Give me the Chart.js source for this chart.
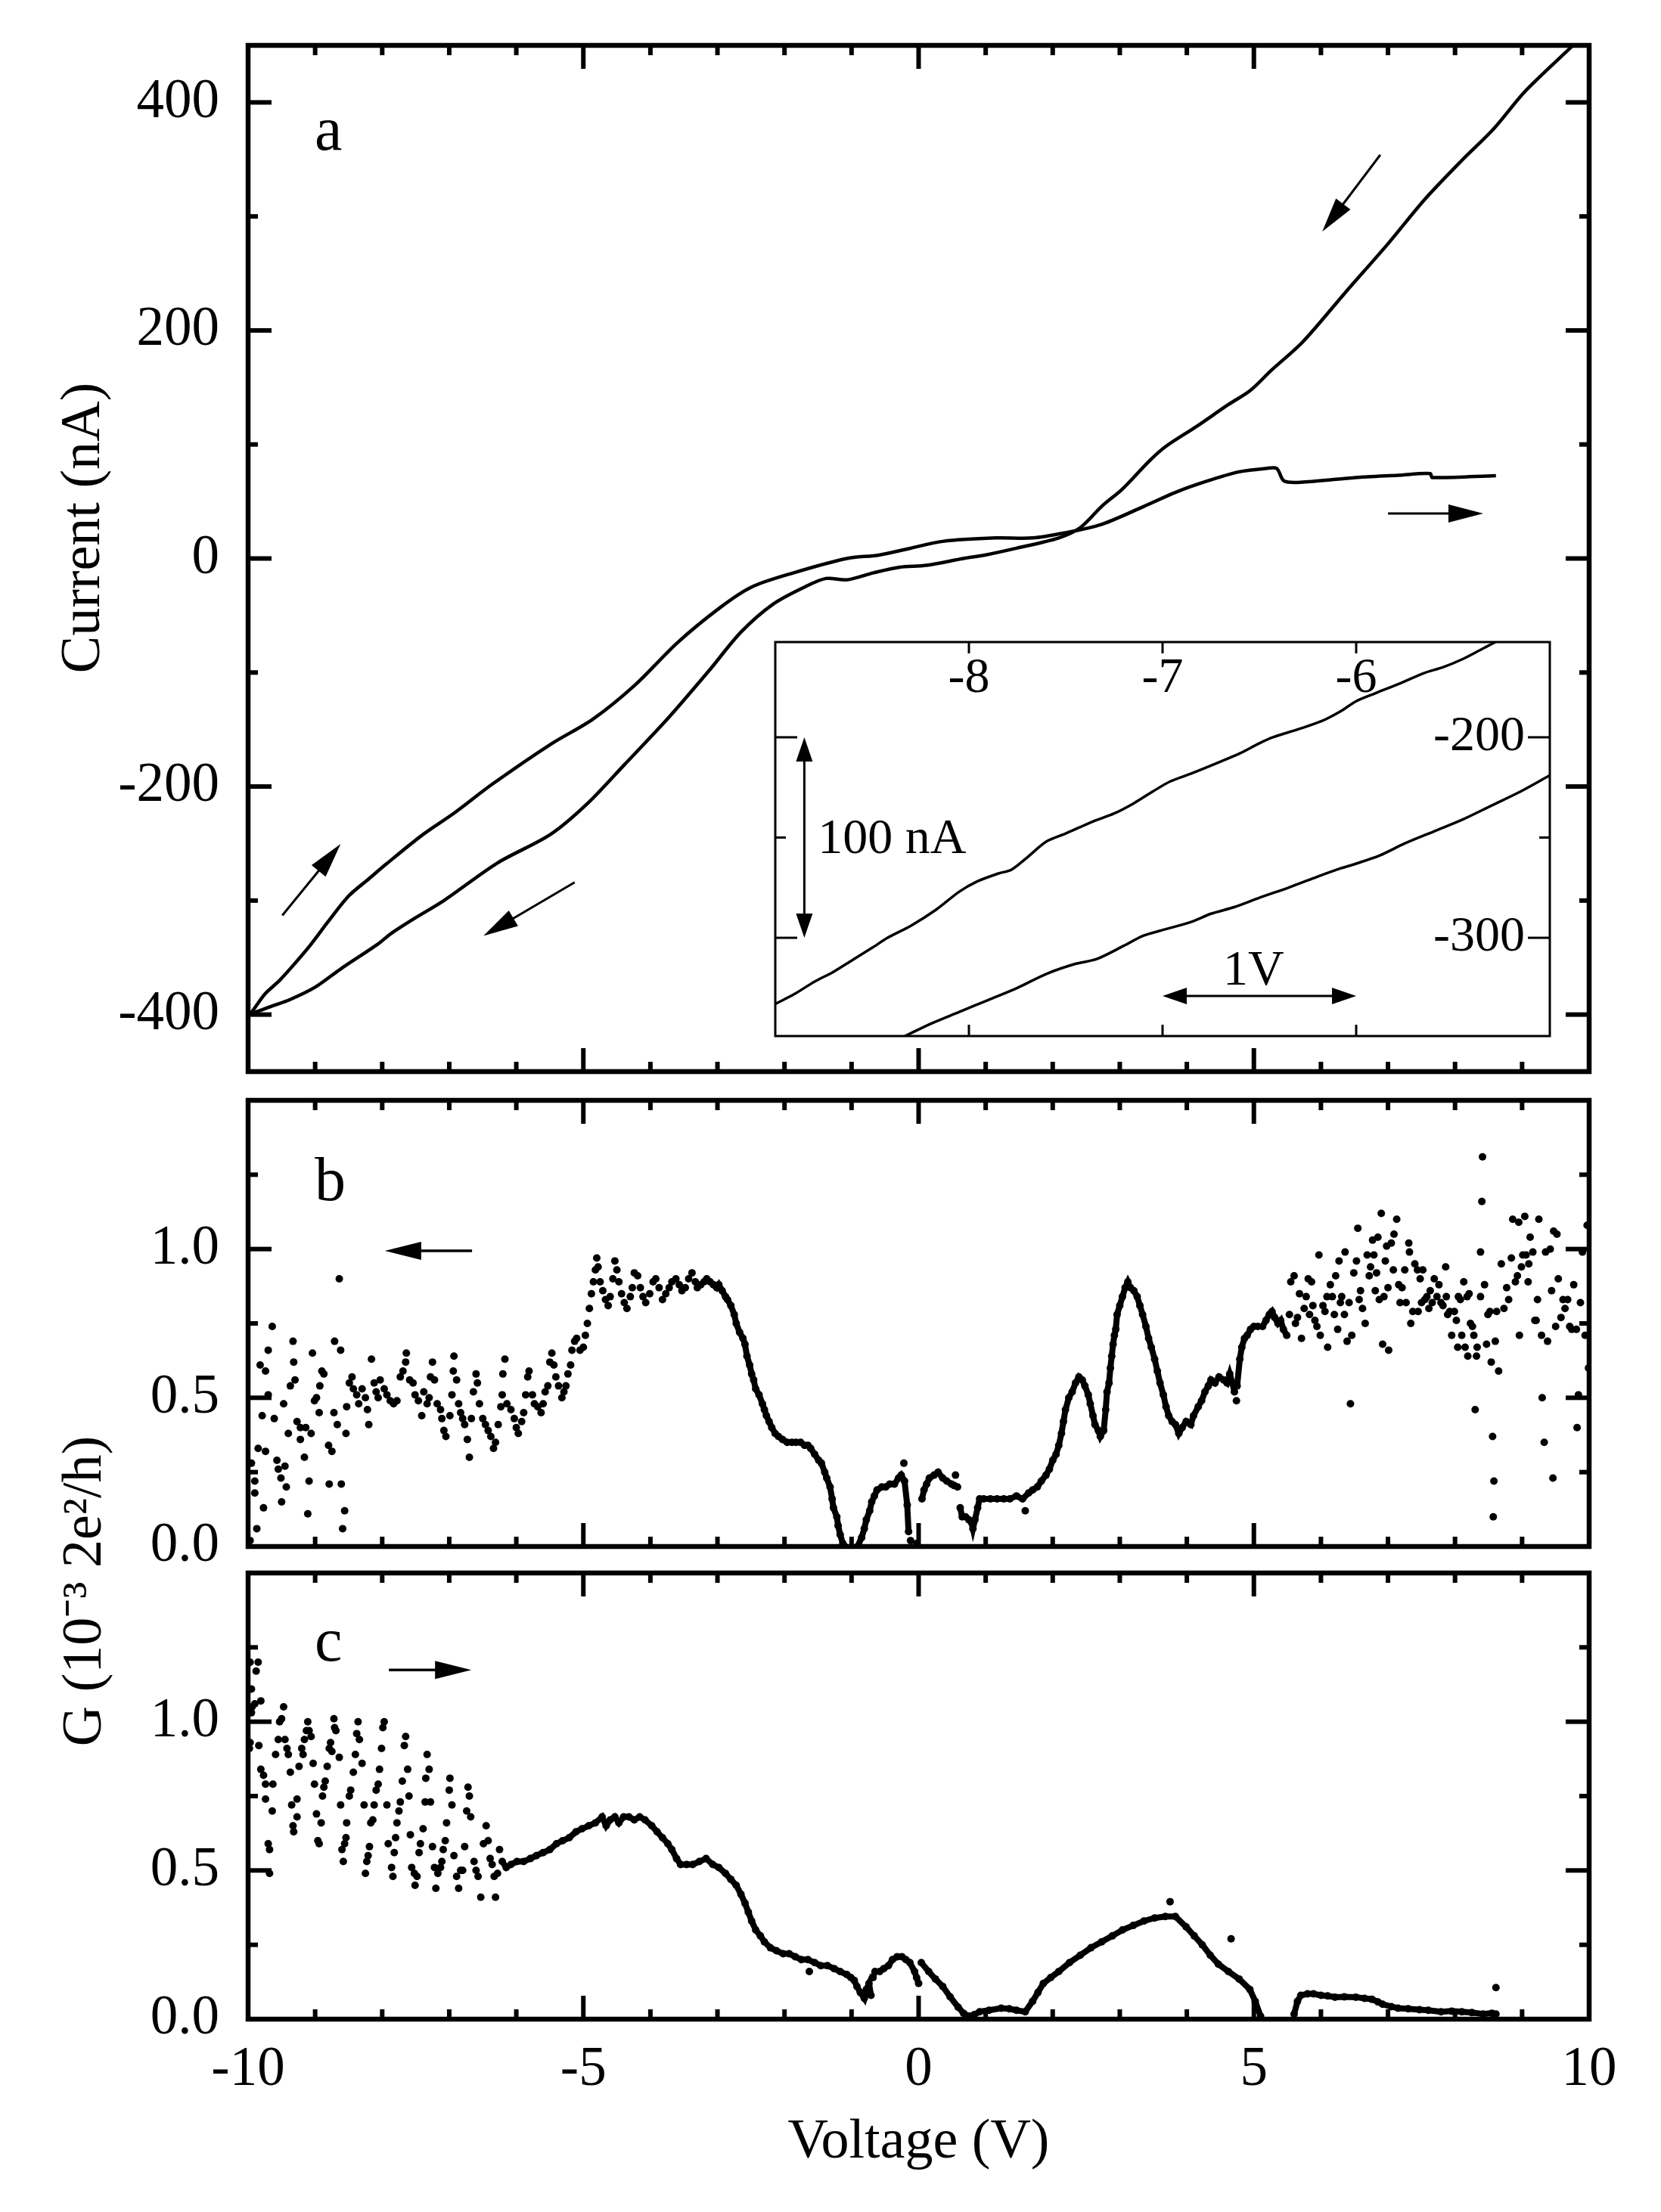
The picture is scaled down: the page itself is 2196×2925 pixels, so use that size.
<!DOCTYPE html>
<html><head><meta charset="utf-8">
<script src="https://cdn.jsdelivr.net/npm/chart.js@4.4.1/dist/chart.umd.min.js"></script>
<style>
html,body{margin:0;padding:0;background:#fff;}
#wrap{position:relative;width:2196px;height:2925px;background:#fff;}
canvas{position:absolute;left:0;top:0;width:2196px;height:2925px;}
</style></head><body>
<div id="wrap">
<canvas id="ca" width="2196" height="2925"></canvas>
<canvas id="ci" width="2196" height="2925"></canvas>
<canvas id="cb" width="2196" height="2925"></canvas>
<canvas id="cc" width="2196" height="2925"></canvas>
</div>
<script>
// ---------------- tick values and labels ----------------
const xMajorTicks = [-10,-5,0,5,10];
const xMinorTicks = [-9,-8,-7,-6,-4,-3,-2,-1,1,2,3,4,6,7,8,9];
const xLabels = ['-10','-5','0','5','10'];
const aYTicks = [-400,-200,0,200,400];
const aYMinor = [-300,-100,100,300];
const aYLabels = ['-400','-200','0','200','400'];
const gYTicks = [0,0.5,1.0];
const gYMinor = [0.25,0.75,1.25];
const gYLabels = ['0.0','0.5','1.0'];
const inXTicks = [-8,-7,-6];
const inXLabels = ['-8','-7','-6'];
const inYTicks = [-200,-300];
const inYMinor = [-250];
const inYLabels = ['-200','-300'];

// ---------------- panel a: I-V sweeps (V, nA) ----------------
const aForward = [[-10,-400],[-9.95,-398],[-9.75,-382],[-9.53,-370],[-9.30,-355],[-9.07,-339],[-8.80,-318],[-8.50,-296],
 [-8.20,-281],[-7.94,-268],[-7.39,-242],[-6.92,-223],[-6.36,-198],[-5.49,-163],[-4.86,-141],[-4.23,-111],[-3.60,-74],
 [-2.96,-43],[-2.49,-25],[-1.86,-12.5],[-1.07,0],[-0.59,3],[-0.12,9],[0.36,15],[1.15,18],[1.70,18],[2.17,22.4],[2.73,30],
 [3.36,45.7],[3.83,58],[4.31,68],[4.78,76],[5.18,79],[5.34,79],[5.45,68],[5.73,67],[6.52,71],[7.15,73],[7.63,74.5],
 [7.66,71],[8.61,72.7]];
const aBackward = [[9.90,458],[9.76,450],[9.05,410],[8.58,377],[8.10,349],[7.55,315],[7.00,276],[6.36,233],[5.73,190],
 [5.26,165],[4.94,147],[4.62,135],[4.15,116],[3.68,98],[3.44,85.5],[3.04,61],[2.73,45.7],[2.41,27],[2.09,18],[1.46,9],
 [0.99,3],[0.67,0],[0.12,-6],[-0.28,-7.6],[-0.67,-12.5],[-1.07,-18.7],[-1.38,-17.5],[-1.70,-25],[-2.17,-40],[-2.65,-64.6],
 [-3.12,-98],[-3.75,-141],[-4.39,-181],[-4.94,-215],[-5.49,-242],[-6.28,-267],[-7.08,-300],[-7.50,-315],[-7.87,-329],
 [-8.06,-338],[-8.62,-360],[-9.00,-376],[-9.38,-387],[-9.62,-392],[-9.85,-397],[-10,-400]];
const aArrows = [[6.885,354,6.02,286.6],[7.0,39.5,8.42,39.5],[-9.49,-313,-8.62,-250.4],[-5.13,-284,-6.49,-331]];

// ---------------- inset (V, nA) ----------------
const inUpper = [[-9.0,-333],[-8.9,-328],[-8.8,-322],[-8.7,-317],[-8.6,-311],[-8.5,-305],[-8.42,-300],[-8.3,-294],
 [-8.17,-286],[-8.05,-277],[-7.96,-272],[-7.85,-268],[-7.78,-266],[-7.7,-260],[-7.6,-252],[-7.5,-248],[-7.36,-242],
 [-7.25,-238],[-7.15,-233],[-7.05,-227],[-6.96,-222],[-6.85,-218],[-6.71,-212.5],[-6.6,-208],[-6.5,-203],[-6.43,-200],
 [-6.3,-196],[-6.18,-192],[-6.08,-187],[-6.0,-182],[-5.9,-178],[-5.77,-173],[-5.65,-168],[-5.55,-165],[-5.45,-161],
 [-5.35,-156],[-5.25,-151],[-5.15,-147]];
const inLower = [[-8.4,-352],[-8.33,-349],[-8.2,-343],[-8.05,-337],[-7.9,-331],[-7.75,-325],[-7.6,-318],[-7.45,-313],
 [-7.34,-310.6],[-7.2,-304],[-7.1,-299],[-6.98,-295.6],[-6.85,-292],[-6.75,-288],[-6.63,-284.7],[-6.5,-280],[-6.35,-275],
 [-6.24,-271],[-6.1,-266],[-6.0,-263],[-5.88,-259],[-5.75,-253],[-5.6,-247],[-5.45,-241],[-5.3,-234],[-5.15,-227],[-5.0,-219]];
const inArrows = [[-8.85,-200,-8.85,-300],[-7,-329,-6,-329]];

// ---------------- panel b: G (sweep down) ----------------
const bNoiseL = [[-9.97,0.02],[-9.95,0.28],[-9.90,0.22],[-9.90,0.18],[-9.87,0.06],[-9.85,0.33],[-9.82,0.61],[-9.79,0.44],
 [-9.77,0.13],[-9.74,0.59],[-9.74,0.32],[-9.70,0.51],[-9.70,0.66],[-9.64,0.74],[-9.61,0.43],[-9.57,0.29],[-9.55,0.26],
 [-9.51,0.23],[-9.50,0.15],[-9.47,0.48],[-9.45,0.27],[-9.43,0.20],[-9.40,0.38],[-9.37,0.54],[-9.33,0.69],[-9.32,0.62],
 [-9.30,0.56],[-9.27,0.42],[-9.22,0.40],[-9.22,0.36],[-9.16,0.30],[-9.14,0.40],[-9.11,0.11],[-9.09,0.22],[-9.06,0.38],
 [-9.04,0.65],[-9.01,0.49],[-8.98,0.50],[-8.94,0.45],[-8.93,0.54],[-8.90,0.59],[-8.87,0.58],[-8.80,0.34],[-8.79,0.21],
 [-8.75,0.32],[-8.72,0.45],[-8.71,0.69],[-8.67,0.41],[-8.64,0.90],[-8.62,0.66],[-8.61,0.21],[-8.59,0.06],[-8.56,0.12],
 [-8.54,0.38],[-8.53,0.47],[-8.49,0.55],[-8.45,0.57],[-8.43,0.53],[-8.38,0.51],[-8.35,0.48],[-8.30,0.53],[-8.25,0.50],
 [-8.22,0.46],[-8.20,0.41],[-8.16,0.63],[-8.12,0.55],[-8.09,0.52],[-8.06,0.50],[-8.03,0.56],[-7.97,0.53],[-7.93,0.51],
 [-7.88,0.49],[-7.83,0.48],[-7.78,0.49],[-7.73,0.57],[-7.69,0.59],[-7.65,0.62],[-7.64,0.65],[-7.59,0.56],[-7.54,0.55],
 [-7.51,0.51],[-7.46,0.49],[-7.41,0.44],[-7.38,0.52],[-7.33,0.48],[-7.30,0.50],[-7.28,0.57],[-7.25,0.62],[-7.22,0.56],
 [-7.18,0.48],[-7.13,0.46],[-7.11,0.43],[-7.08,0.39],[-7.05,0.37],[-6.99,0.44],[-6.96,0.51],[-6.94,0.59],[-6.93,0.64],
 [-6.89,0.56],[-6.86,0.48],[-6.83,0.45],[-6.80,0.43],[-6.77,0.41],[-6.73,0.36],[-6.70,0.30],[-6.67,0.43],[-6.64,0.52],
 [-6.60,0.58],[-6.58,0.55],[-6.55,0.48],[-6.50,0.43],[-6.46,0.41],[-6.42,0.39],[-6.38,0.37],[-6.34,0.33],[-6.31,0.35],
 [-6.27,0.41],[-6.23,0.47],[-6.21,0.51],[-6.20,0.58],[-6.17,0.63],[-6.14,0.48],[-6.08,0.46],[-6.03,0.43],[-6.00,0.40],
 [-5.97,0.38],[-5.92,0.42],[-5.89,0.45],[-5.86,0.51],[-5.83,0.57],[-5.81,0.59],[-5.76,0.51],[-5.73,0.48],[-5.68,0.47],
 [-5.63,0.45],[-5.60,0.48],[-5.57,0.52],[-5.53,0.54],[-5.50,0.62],[-5.47,0.65],[-5.44,0.61],[-5.41,0.57],[-5.37,0.54],
 [-5.32,0.50],[-5.29,0.52],[-5.26,0.54],[-5.23,0.58],[-5.19,0.61],[-5.17,0.66],[-5.13,0.69],[-5.10,0.70],[-5.05,0.66],
 [-5.00,0.67],[-4.97,0.71],[-4.94,0.75],[-0.22,0.28],[-0.12,0.02],[-0.03,0.01],[0.55,0.24],[1.59,0.12]];
const bPlateau = [[-4.91,0.80],[-4.88,0.85],[-4.85,0.89],[-4.82,0.93],[-4.80,0.97],[-4.78,0.94],[-4.75,0.89],[-4.71,0.86],
 [-4.67,0.83],[-4.63,0.81],[-4.60,0.84],[-4.56,0.90],[-4.53,0.96],[-4.50,0.93],[-4.47,0.89],[-4.43,0.85],[-4.39,0.82],
 [-4.35,0.80],[-4.30,0.84],[-4.27,0.87],[-4.24,0.92],[-4.19,0.91],[-4.15,0.87],[-4.11,0.84],[-4.07,0.82],[-4.01,0.85],
 [-3.96,0.89],[-3.92,0.90],[-3.87,0.87],[-3.82,0.83],[-3.77,0.85],[-3.72,0.87],[-3.68,0.89],[-3.62,0.90],[-3.57,0.88],
 [-3.53,0.86],[-3.48,0.87],[-3.43,0.90],[-3.38,0.92],[-3.33,0.89],[-3.30,0.87],[-3.25,0.88],[-3.20,0.89]];
const bDense1 = [[-3.16,0.90],
 [-3.11,0.89],[-3.06,0.88],[-3.01,0.87],[-2.98,0.88],[-2.93,0.86],[-2.88,0.84],[-2.85,0.83],[-2.80,0.81],[-2.75,0.78],
 [-2.72,0.75],[-2.67,0.72],[-2.62,0.70],[-2.59,0.68],[-2.56,0.64],[-2.52,0.61],[-2.49,0.58],[-2.46,0.56],[-2.43,0.53],
 [-2.38,0.51],[-2.33,0.48],[-2.30,0.46],[-2.27,0.44],[-2.23,0.42],[-2.19,0.40],[-2.14,0.38],[-2.09,0.37],[-2.03,0.36],
 [-1.96,0.35],[-1.89,0.35],[-1.83,0.35],[-1.76,0.35],[-1.70,0.34],[-1.65,0.34],[-1.61,0.33],[-1.55,0.31],[-1.49,0.29],
 [-1.45,0.28],[-1.40,0.25],[-1.37,0.23],[-1.32,0.20],[-1.29,0.16],[-1.27,0.13],[-1.22,0.10],[-1.20,0.07],[-1.17,0.04],
 [-1.13,0.01],[-1.10,0.0]];
const bDense2 = [[-0.91,0.0],[-0.85,0.03],[-0.81,0.06],[-0.78,0.09],[-0.73,0.12],[-0.70,0.15],[-0.66,0.17],[-0.62,0.19],
 [-0.55,0.20],[-0.49,0.20],[-0.43,0.21],[-0.36,0.21],[-0.30,0.23],[-0.26,0.24],[-0.21,0.22],[-0.17,0.14],[-0.15,0.05]];
const bDense3 = [[0.05,0.16],[0.08,0.19],[0.12,0.21],[0.16,0.23],[0.23,0.24],[0.29,0.25],[0.36,0.23],[0.42,0.22],
 [0.49,0.21],[0.53,0.205],[0.58,0.20]];
const bDense4 = [[0.62,0.13],[0.65,0.10],[0.70,0.10],[0.75,0.09],[0.79,0.08],[0.81,0.06],[0.84,0.09],[0.88,0.13],
 [0.91,0.16],[0.97,0.16],[1.07,0.16],[1.17,0.16],[1.27,0.16],[1.36,0.16],[1.46,0.17],[1.55,0.16],[1.64,0.18],[1.70,0.19],
 [1.77,0.20],[1.83,0.22],[1.90,0.24],[1.95,0.26],[2.00,0.29],[2.05,0.31],[2.09,0.34],[2.13,0.38],[2.16,0.42],[2.19,0.46],
 [2.24,0.50],[2.29,0.52],[2.34,0.55],[2.39,0.57],[2.44,0.56],[2.48,0.54],[2.53,0.51],[2.56,0.48],[2.60,0.44],[2.63,0.41],
 [2.68,0.39],[2.71,0.37],[2.76,0.39],[2.79,0.46],[2.81,0.52],[2.84,0.55],[2.86,0.60],[2.88,0.64],[2.90,0.68],[2.92,0.71],
 [2.94,0.73],[2.96,0.78],[3.00,0.81],[3.04,0.84],[3.08,0.87],[3.12,0.89],[3.16,0.87],[3.21,0.86],[3.26,0.84],[3.30,0.81],
 [3.34,0.78],[3.39,0.74],[3.43,0.70],[3.47,0.67],[3.52,0.63],[3.56,0.59],[3.60,0.55],[3.65,0.51],[3.69,0.47],[3.73,0.44],
 [3.78,0.42],[3.83,0.41],[3.88,0.38],[3.93,0.40],[3.99,0.42],[4.06,0.41],[4.10,0.44],[4.17,0.47],[4.22,0.49],[4.27,0.52],
 [4.32,0.54],[4.36,0.56],[4.42,0.55],[4.48,0.57],[4.55,0.56],[4.60,0.55],[4.64,0.58],[4.68,0.55],[4.71,0.52]];
const bDense5 = [[4.75,0.54],[4.79,0.63],[4.82,0.67],[4.86,0.70],[4.90,0.71],[4.95,0.73],[5.00,0.74],[5.06,0.74],[5.13,0.74],[5.18,0.76],
 [5.23,0.78],[5.27,0.79],[5.31,0.77],[5.36,0.75],[5.40,0.76],[5.44,0.73],[5.49,0.71]];
const bNoiseR = [[4.74,0.49],[5.53,0.78],[5.55,0.89],[5.60,0.91],[5.62,0.75],[5.65,0.77],[5.68,0.85],[5.71,0.70],[5.75,0.80],
 [5.78,0.84],[5.81,0.90],[5.83,0.78],[5.86,0.89],[5.88,0.81],[5.91,0.76],[5.94,0.74],[5.97,0.98],[5.99,0.71],[6.03,0.81],
 [6.06,0.79],[6.09,0.84],[6.10,0.67],[6.14,0.88],[6.17,0.84],[6.20,0.78],[6.22,0.91],[6.25,0.73],[6.27,0.96],[6.29,0.82],
 [6.31,0.84],[6.35,0.78],[6.36,0.99],[6.39,0.69],[6.42,0.82],[6.44,0.48],[6.46,0.71],[6.49,0.92],[6.53,0.96],[6.55,1.07],
 [6.57,0.83],[6.59,0.86],[6.62,0.80],[6.66,0.75],[6.69,0.98],[6.72,0.91],[6.74,0.94],[6.77,1.03],[6.79,0.98],[6.81,0.86],
 [6.83,0.92],[6.85,1.04],[6.87,0.83],[6.90,1.12],[6.92,0.68],[6.94,0.84],[6.96,0.96],[6.98,1.01],[7.00,0.87],[7.01,0.66],
 [7.05,1.02],[7.08,0.93],[7.09,1.05],[7.13,1.10],[7.16,0.88],[7.18,0.82],[7.21,0.87],[7.25,0.93],[7.27,0.82],[7.31,1.02],
 [7.32,0.99],[7.34,0.75],[7.37,0.79],[7.40,0.95],[7.44,0.93],[7.45,0.79],[7.48,0.90],[7.50,0.82],[7.52,0.93],[7.55,0.83],
 [7.58,0.84],[7.61,0.80],[7.63,0.86],[7.66,0.82],[7.69,0.90],[7.73,0.84],[7.76,0.88],[7.79,0.82],[7.82,0.81],[7.86,0.94],
 [7.87,0.84],[7.89,0.78],[7.92,0.79],[7.95,0.71],[7.99,0.79],[8.02,0.76],[8.04,0.67],[8.05,0.84],[8.08,0.83],[8.10,0.71],
 [8.13,0.89],[8.15,0.67],[8.18,0.84],[8.19,0.64],[8.21,0.85],[8.23,0.75],[8.26,0.74],[8.28,0.71],[8.30,0.46],[8.32,0.64],
 [8.33,0.67],[8.38,0.99],[8.38,0.84],[8.40,1.16],[8.41,1.31],[8.44,0.88],[8.47,0.68],[8.49,0.78],[8.52,0.79],[8.54,0.62],
 [8.56,0.37],[8.57,0.10],[8.58,0.22],[8.60,0.69],[8.62,0.79],[8.65,0.59],[8.69,0.95],[8.73,0.80],[8.77,0.87],[8.80,0.83],
 [8.84,0.97],[8.86,1.10],[8.90,0.89],[8.93,0.91],[8.95,1.09],[8.96,0.71],[8.99,0.94],[9.01,0.98],[9.04,1.11],[9.06,0.98],
 [9.09,0.89],[9.10,0.95],[9.12,1.04],[9.16,0.99],[9.19,0.76],[9.21,0.76],[9.23,0.83],[9.25,1.10],[9.29,0.71],[9.30,0.50],
 [9.33,0.35],[9.35,0.99],[9.38,0.69],[9.42,1.00],[9.44,0.86],[9.46,0.23],[9.47,1.06],[9.50,0.74],[9.52,1.05],[9.54,0.90],
 [9.58,0.77],[9.61,0.83],[9.64,0.80],[9.68,0.83],[9.71,0.74],[9.74,0.73],[9.77,0.88],[9.81,0.73],[9.82,0.40],[9.84,0.51],
 [9.87,0.82],[9.90,0.99],[9.94,0.71],[9.97,1.08],[9.99,0.60]];
const bArrow = [-6.66,0.994,-7.96,0.994];

// ---------------- panel c: G (sweep up) ----------------
const cNoiseL = [[-9.97,1.20],[-9.95,1.11],[-9.94,1.05],[-9.95,1.03],[-9.97,0.93],[-9.98,0.91],[-9.90,1.06],[-9.88,1.17],
 [-9.85,1.20],[-9.84,0.92],[-9.81,1.07],[-9.81,0.84],[-9.77,0.82],[-9.74,0.79],[-9.74,0.74],[-9.70,0.59],[-9.68,0.57],
 [-9.68,0.49],[-9.64,0.70],[-9.63,0.79],[-9.59,0.89],[-9.55,0.94],[-9.53,1.00],[-9.50,1.01],[-9.47,1.05],[-9.45,0.94],
 [-9.42,0.91],[-9.40,0.89],[-9.37,0.83],[-9.35,0.72],[-9.33,0.65],[-9.32,0.63],[-9.27,0.74],[-9.27,0.68],[-9.24,0.85],
 [-9.20,0.91],[-9.18,0.89],[-9.16,0.94],[-9.13,0.97],[-9.11,1.00],[-9.09,0.97],[-9.06,0.95],[-9.03,0.86],[-9.01,0.79],
 [-8.98,0.69],[-8.96,0.60],[-8.94,0.59],[-8.91,0.66],[-8.89,0.75],[-8.87,0.78],[-8.85,0.80],[-8.82,0.85],[-8.79,0.91],
 [-8.77,0.93],[-8.75,0.90],[-8.72,1.01],[-8.71,0.98],[-8.69,0.97],[-8.64,0.88],[-8.62,0.72],[-8.60,0.57],[-8.58,0.53],
 [-8.56,0.59],[-8.54,0.61],[-8.53,0.66],[-8.49,0.75],[-8.47,0.77],[-8.43,0.83],[-8.40,0.89],[-8.38,0.96],[-8.36,1.00],
 [-8.34,0.94],[-8.30,0.86],[-8.27,0.72],[-8.25,0.49],[-8.23,0.53],[-8.21,0.55],[-8.19,0.58],[-8.17,0.66],[-8.14,0.67],
 [-8.12,0.72],[-8.09,0.77],[-8.06,0.79],[-8.04,0.84],[-8.01,0.91],[-7.99,0.98],[-7.97,1.00],[-7.93,0.72],[-7.91,0.59],
 [-7.86,0.51],[-7.84,0.48],[-7.82,0.56],[-7.80,0.61],[-7.78,0.66],[-7.75,0.70],[-7.73,0.73],[-7.70,0.80],[-7.67,0.92],
 [-7.65,0.95],[-7.62,0.84],[-7.60,0.75],[-7.58,0.62],[-7.56,0.51],[-7.52,0.49],[-7.51,0.45],[-7.48,0.48],[-7.45,0.56],
 [-7.43,0.59],[-7.39,0.64],[-7.36,0.73],[-7.35,0.81],[-7.33,0.89],[-7.30,0.84],[-7.28,0.73],[-7.25,0.58],[-7.22,0.51],
 [-7.20,0.44],[-7.17,0.49],[-7.13,0.51],[-7.11,0.53],[-7.09,0.57],[-7.06,0.60],[-7.04,0.66],[-7.00,0.77],[-6.99,0.81],
 [-6.96,0.72],[-6.93,0.55],[-6.89,0.48],[-6.86,0.44],[-6.83,0.50],[-6.80,0.50],[-6.77,0.58],[-6.74,0.70],[-6.72,0.78],
 [-6.70,0.75],[-6.68,0.68],[-6.63,0.53],[-6.60,0.50],[-6.57,0.48],[-6.53,0.41],[-6.49,0.59],[-6.45,0.65],[-6.42,0.60],
 [-6.39,0.54],[-6.36,0.52],[-6.33,0.48],[-6.31,0.41],[-6.28,0.49],[-6.25,0.57],[-1.63,0.16],[3.75,0.395],[4.66,0.27],
 [8.61,0.106]];
const cDense1 = [[-6.21,0.53],[-6.15,0.51],[-6.08,0.52],[-5.99,0.53],[-5.89,0.53],[-5.79,0.54],[-5.70,0.55],[-5.60,0.56],
 [-5.50,0.57],[-5.40,0.59],[-5.31,0.60],[-5.21,0.61],[-5.11,0.63],[-5.02,0.64],[-4.92,0.65],[-4.82,0.66],[-4.72,0.68],
 [-4.66,0.65],[-4.60,0.67],[-4.53,0.68],[-4.47,0.66],[-4.40,0.68],[-4.32,0.68],[-4.24,0.67],[-4.16,0.68],[-4.08,0.67],
 [-3.98,0.65],[-3.90,0.63],[-3.82,0.61],[-3.74,0.59],[-3.68,0.57],[-3.61,0.54],[-3.55,0.52],[-3.46,0.52],[-3.37,0.52],
 [-3.27,0.53],[-3.17,0.54],[-3.07,0.52],[-2.98,0.51],[-2.88,0.49],[-2.80,0.47],[-2.72,0.45],[-2.65,0.42],[-2.59,0.39],
 [-2.54,0.36],[-2.49,0.33],[-2.43,0.30],[-2.36,0.28],[-2.30,0.26],[-2.21,0.24],[-2.12,0.23],[-2.02,0.22],[-1.93,0.22],
 [-1.84,0.21],[-1.75,0.20],[-1.65,0.20],[-1.55,0.19],[-1.46,0.18],[-1.36,0.18],[-1.26,0.17],[-1.17,0.16],[-1.07,0.15],
 [-1.01,0.14],[-0.96,0.13],[-0.92,0.11],[-0.87,0.09],[-0.81,0.07],[-0.78,0.10],[-0.74,0.12],[-0.71,0.08]];
const cDense2 = [[-0.68,0.14],[-0.65,0.16],[-0.58,0.16],[-0.52,0.17],[-0.45,0.18],[-0.39,0.20],[-0.32,0.21],[-0.25,0.21],
 [-0.19,0.20],[-0.13,0.19],[-0.06,0.16],[-0.03,0.14],[0.00,0.12]];
const cDense3 = [[0.04,0.19],[0.15,0.16],[0.25,0.135],[0.36,0.11],[0.47,0.075],[0.59,0.04],[0.67,0.02],[0.75,0.01],
 [0.83,0.015],[0.91,0.025],[1.05,0.03],[1.23,0.037],[1.35,0.035],[1.46,0.03],[1.59,0.025],[1.70,0.06],[1.78,0.09],
 [1.86,0.12],[1.97,0.14],[2.09,0.16],[2.25,0.19],[2.41,0.215],[2.57,0.24],[2.73,0.26],[2.89,0.28],[3.04,0.30],[3.20,0.315],
 [3.36,0.33],[3.52,0.34],[3.68,0.345],[3.83,0.345],[3.99,0.31],[4.11,0.28],[4.23,0.25],[4.35,0.215],[4.47,0.185],
 [4.62,0.16],[4.78,0.135],[4.94,0.10],[5.02,0.06],[5.10,0.01]];
const cDense4 = [[5.60,0.017],[5.65,0.06],[5.70,0.08],[5.80,0.085],[5.89,0.085],[6.00,0.08],[6.10,0.078],[6.21,0.074],
 [6.35,0.075],[6.52,0.074],[6.65,0.07],[6.76,0.067],[6.85,0.058],[6.92,0.05],[7.05,0.042],[7.15,0.037],[7.30,0.035],
 [7.47,0.032],[7.60,0.03],[7.79,0.025],[7.95,0.027],[8.10,0.025],[8.25,0.022],[8.42,0.017],[8.55,0.02],[8.61,0.017]];
const cArrow = [-7.90,1.174,-6.67,1.174];

// ---------------- helpers ----------------
const FONT = "'Liberation Serif','Times New Roman',Times,serif";
const W = 2196, H = 2925, LEFT = 328, RIGHT = 2101;
const pts = arr => arr.map(p => ({x:p[0], y:p[1]}));

function drawArrow(ctx,x1,y1,x2,y2,L,hw,lw,both){
  const dx=x2-x1, dy=y2-y1, len=Math.hypot(dx,dy), ux=dx/len, uy=dy/len;
  const s = both ? L*0.8 : 0;
  ctx.lineWidth=lw; ctx.lineCap='butt';
  ctx.beginPath(); ctx.moveTo(x1+ux*s,y1+uy*s); ctx.lineTo(x2-ux*L*0.8,y2-uy*L*0.8); ctx.stroke();
  const head=(tx,ty,vx,vy)=>{ctx.beginPath();ctx.moveTo(tx,ty);
    ctx.lineTo(tx-vx*L-vy*hw,ty-vy*L+vx*hw);ctx.lineTo(tx-vx*L+vy*hw,ty-vy*L-vx*hw);ctx.closePath();ctx.fill();};
  head(x2,y2,ux,uy); if(both) head(x1,y1,-ux,-uy);
}

const bgPlugin = {id:'bg', beforeDatasetsDraw(chart,args,o){ if(!o||!o.fill) return;
  const a=chart.chartArea, c=chart.ctx; c.save(); c.fillStyle='#fff'; c.fillRect(a.left,a.top,a.right-a.left,a.bottom-a.top); c.restore(); }};

const framePlugin = {id:'frame', afterDatasetsDraw(chart,args,o){
  const c=chart.ctx, a=chart.chartArea, sx=chart.scales.x, sy=chart.scales.y;
  c.save(); c.strokeStyle='#000'; c.lineCap='butt';
  const ln=(x1,y1,x2,y2)=>{c.beginPath();c.moveTo(x1,y1);c.lineTo(x2,y2);c.stroke();};
  c.lineWidth=o.tw;
  const xt=(vals,len)=>vals.forEach(v=>{const p=sx.getPixelForValue(v); ln(p,a.bottom,p,a.bottom-len); ln(p,a.top,p,a.top+len);});
  const yt=(vals,len)=>vals.forEach(v=>{const p=sy.getPixelForValue(v); ln(a.left,p,a.left+len,p); ln(a.right,p,a.right-len,p);});
  xt(o.xMaj,o.xMajLen); xt(o.xMin,o.xMinLen); yt(o.yMaj,o.yMajLen); yt(o.yMin,o.yMinLen);
  c.lineWidth=o.lw; c.strokeRect(a.left,a.top,a.right-a.left,a.bottom-a.top);
  c.restore();
}};

const notesPlugin = {id:'notes', afterDatasetsDraw(chart,args,o){
  const c=chart.ctx, a=chart.chartArea, sx=chart.scales.x, sy=chart.scales.y;
  c.save(); c.fillStyle='#000'; c.strokeStyle='#000';
  const px=s=> s.v!==undefined? sx.getPixelForValue(s.v) : s.l!==undefined? a.left+s.l : s.r!==undefined? a.right+s.r : s.p;
  const py=s=> s.v!==undefined? sy.getPixelForValue(s.v) : s.t!==undefined? a.top+s.t : s.p;
  (o.texts||[]).forEach(t=>{
    c.save(); c.translate(px(t.x),py(t.y)); if(t.rot) c.rotate(t.rot);
    c.font=t.size+'px '+FONT; c.textAlign=t.align||'left'; c.textBaseline=t.base||'alphabetic';
    c.fillText(t.text,0,0); c.restore();
  });
  (o.arrows||[]).forEach(r=>{
    drawArrow(c,sx.getPixelForValue(r[0]),sy.getPixelForValue(r[1]),sx.getPixelForValue(r[2]),sy.getPixelForValue(r[3]),
      o.L,o.hw,o.lw,o.both);
  });
  c.restore();
}};

function yAxis(min,max,ticks,labels){
  return {type:'linear',min:min,max:max,position:'left',
    afterFit:s=>{s.width=LEFT; s.paddingTop=0; s.paddingBottom=0;},
    afterBuildTicks:s=>{s.ticks=ticks.map(v=>({value:v}));},
    grid:{display:false,drawTicks:false}, border:{display:false},
    ticks:{autoSkip:false,color:'#000',padding:38,font:{family:FONT,size:73},callback:(v,i)=>labels[i]}};
}
const base = {responsive:false, animation:false, devicePixelRatio:1, events:[]};
const noLegend = {legend:{display:false}, tooltip:{enabled:false}};
const lineDs = (d,w)=>({data:pts(d),showLine:true,borderColor:'#000',borderWidth:w,pointRadius:0,tension:0.3});
const dotDs = d=>({data:pts(d),showLine:false,pointRadius:5,pointBackgroundColor:'#000',pointBorderWidth:0});
const denseDs = d=>({data:pts(d),showLine:true,borderColor:'#000',borderWidth:8,tension:0,pointRadius:5,
  pointBackgroundColor:'#000',pointBorderWidth:0});
const mainFrame = {lw:6.5,tw:6,xMaj:xMajorTicks,xMin:xMinorTicks,xMajLen:31,xMinLen:13,yMajLen:31,yMinLen:13};

// ---------------- chart a ----------------
new Chart(document.getElementById('ca'),{type:'scatter',
  data:{datasets:[lineDs(aForward,4.5),lineDs(aBackward,4.5)]},
  options:Object.assign({},base,{
    layout:{padding:{top:60,right:W-RIGHT,bottom:H-1417,left:0}},
    scales:{x:{type:'linear',min:-10,max:10,display:false}, y:yAxis(-450,450,aYTicks,aYLabels)},
    plugins:Object.assign({},noLegend,{
      frame:Object.assign({},mainFrame,{yMaj:aYTicks,yMin:aYMinor}),
      notes:{L:46,hw:12,lw:3,both:false,arrows:aArrows,texts:[
        {text:'a',x:{p:416},y:{p:198},size:82},
        {text:'Current (nA)',x:{p:112},y:{p:698},size:74,rot:-Math.PI/2,align:'center',base:'middle'}]}
    })}),
  plugins:[framePlugin,notesPlugin]});

// ---------------- inset ----------------
new Chart(document.getElementById('ci'),{type:'scatter',
  data:{datasets:[lineDs(inUpper,3.5),lineDs(inLower,3.5)]},
  options:Object.assign({},base,{
    layout:{padding:{top:849,right:W-2049,bottom:H-1370,left:1025}},
    scales:{x:{type:'linear',min:-9,max:-5,display:false}, y:{type:'linear',min:-349,max:-152.5,display:false}},
    plugins:Object.assign({},noLegend,{
      bg:{fill:true},
      frame:{lw:3,tw:3,xMaj:inXTicks,xMin:[],xMajLen:15,xMinLen:0,yMaj:inYTicks,yMin:inYMinor,yMajLen:29,yMinLen:14},
      notes:{L:32,hw:11,lw:3,both:true,arrows:inArrows,texts:[
        {text:inXLabels[0],x:{v:inXTicks[0]},y:{t:49},size:66,align:'center',base:'middle'},
        {text:inXLabels[1],x:{v:inXTicks[1]},y:{t:49},size:66,align:'center',base:'middle'},
        {text:inXLabels[2],x:{v:inXTicks[2]},y:{t:49},size:66,align:'center',base:'middle'},
        {text:inYLabels[0],x:{r:-33},y:{v:inYTicks[0]},size:66,align:'right',base:'middle'},
        {text:inYLabels[1],x:{r:-33},y:{v:inYTicks[1]},size:66,align:'right',base:'middle'},
        {text:'100 nA',x:{v:-8.78},y:{v:-251.3},size:66,align:'left',base:'middle'},
        {text:'1V',x:{v:-6.53},y:{v:-317},size:66,align:'center',base:'middle'}]}
    })}),
  plugins:[bgPlugin,framePlugin,notesPlugin]});

// ---------------- chart b ----------------
new Chart(document.getElementById('cb'),{type:'scatter',
  data:{datasets:[dotDs(bNoiseL),dotDs(bPlateau),denseDs(bDense1),denseDs(bDense2),denseDs(bDense3),denseDs(bDense4),
    denseDs(bDense5),dotDs(bNoiseR)]},
  options:Object.assign({},base,{
    layout:{padding:{top:1455,right:W-RIGHT,bottom:H-2045,left:0}},
    scales:{x:{type:'linear',min:-10,max:10,display:false}, y:yAxis(0,1.5,gYTicks,gYLabels)},
    plugins:Object.assign({},noLegend,{
      frame:Object.assign({},mainFrame,{yMaj:gYTicks,yMin:gYMinor}),
      notes:{L:48,hw:12,lw:3.5,both:false,arrows:[bArrow],texts:[{text:'b',x:{p:416},y:{p:1587},size:82}]}
    })}),
  plugins:[framePlugin,notesPlugin]});

// ---------------- chart c ----------------
new Chart(document.getElementById('cc'),{type:'scatter',
  data:{datasets:[dotDs(cNoiseL),denseDs(cDense1),denseDs(cDense2),denseDs(cDense3),denseDs(cDense4)]},
  options:Object.assign({},base,{
    layout:{padding:{top:2080,right:W-RIGHT,bottom:45,left:0}},
    scales:{
      x:{type:'linear',min:-10,max:10,position:'bottom',
        afterFit:s=>{s.height=210;},
        afterBuildTicks:s=>{s.ticks=xMajorTicks.map(v=>({value:v}));},
        grid:{display:false,drawTicks:false}, border:{display:false},
        ticks:{autoSkip:false,maxRotation:0,color:'#000',padding:24,font:{family:FONT,size:73},callback:(v,i)=>xLabels[i]},
        title:{display:true,text:'Voltage (V)',color:'#000',font:{family:FONT,size:74},padding:{top:0,bottom:2}}},
      y:yAxis(0,1.5,gYTicks,gYLabels)},
    plugins:Object.assign({},noLegend,{
      frame:Object.assign({},mainFrame,{yMaj:gYTicks,yMin:gYMinor}),
      notes:{L:48,hw:12,lw:3.5,both:false,arrows:[cArrow],texts:[
        {text:'c',x:{p:416},y:{p:2196},size:82},
        {text:'G (10\u207B\u00B3 2e\u00B2/h)',x:{p:114},y:{p:2104},size:74,rot:-Math.PI/2,align:'center',base:'middle'}]}
    })}),
  plugins:[framePlugin,notesPlugin]});
</script>
</body></html>
